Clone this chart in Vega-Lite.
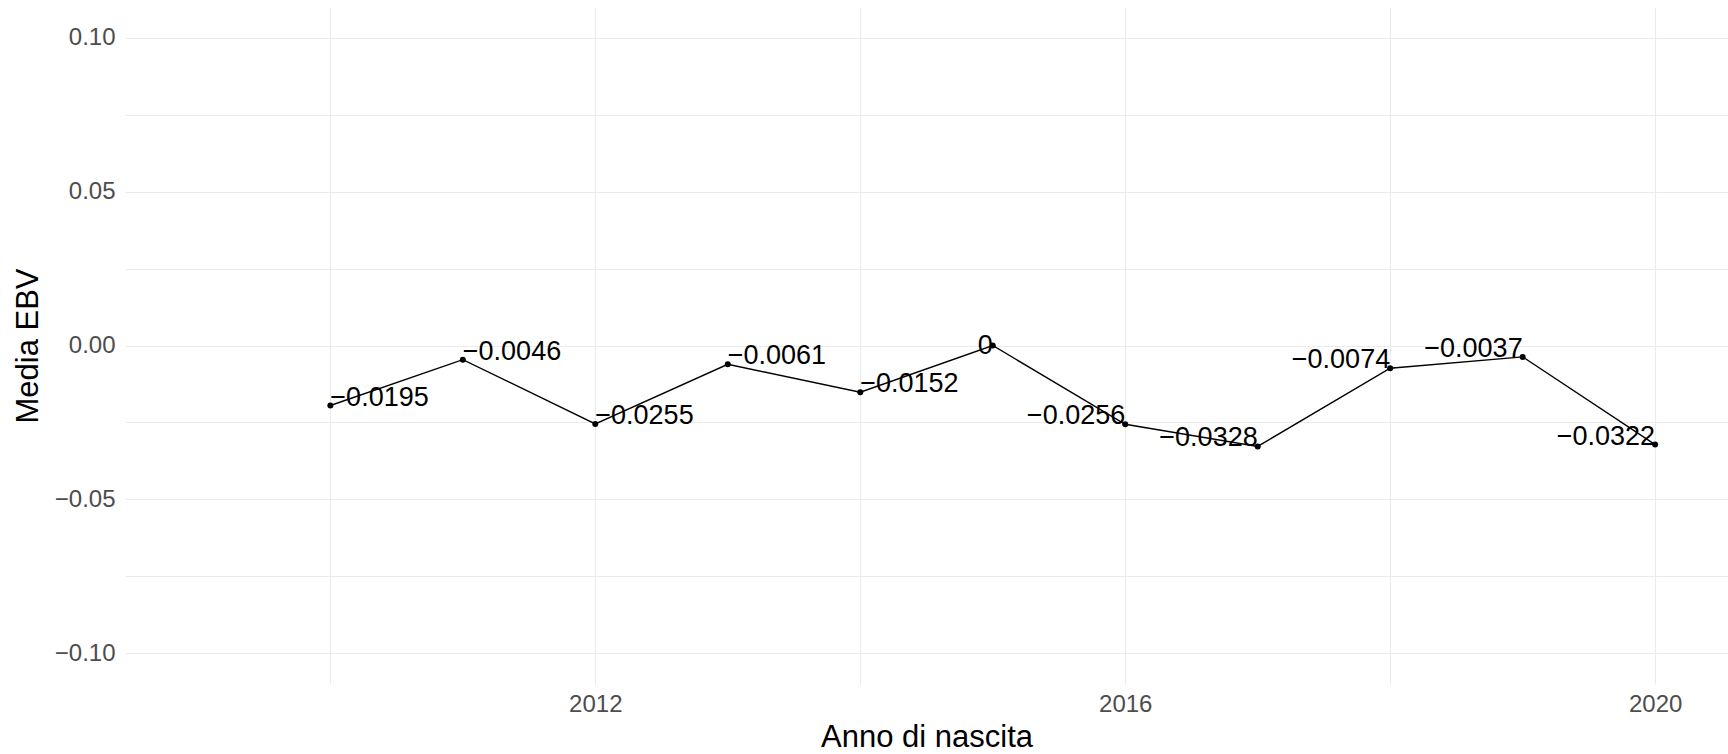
{
  "$schema": "https://vega.github.io/schema/vega-lite/v6.json",
  "width": 1603,
  "height": 677,
  "autosize": {"type": "none"},
  "padding": {"left": 125, "top": 7, "right": 0, "bottom": 70},
  "background": "white",
  "config": {
    "view": {"stroke": null},
    "font": "Liberation Sans",
    "axis": {
      "domain": false,
      "ticks": false,
      "grid": true,
      "gridColor": "#EBEBEB",
      "gridWidth": 1.1,
      "labelFont": "Liberation Sans",
      "labelFontSize": 24,
      "labelColor": "#4D4D4D",
      "labelOverlap": false,
      "labelFlush": false,
      "titleFont": "Liberation Sans",
      "titleFontSize": 31,
      "titleFontWeight": "normal",
      "titleColor": "black"
    }
  },
  "data": {
    "values": [
      {"anno": 2010, "ebv": -0.0195},
      {"anno": 2011, "ebv": -0.0046},
      {"anno": 2012, "ebv": -0.0255},
      {"anno": 2013, "ebv": -0.0061},
      {"anno": 2014, "ebv": -0.0152},
      {"anno": 2015, "ebv": 0},
      {"anno": 2016, "ebv": -0.0256},
      {"anno": 2017, "ebv": -0.0328},
      {"anno": 2018, "ebv": -0.0074},
      {"anno": 2019, "ebv": -0.0037},
      {"anno": 2020, "ebv": -0.0322}
    ]
  },
  "encoding": {
    "x": {
      "field": "anno",
      "type": "quantitative",
      "scale": {"domain": [2008.45, 2020.55], "nice": false, "zero": false},
      "axis": {
        "title": "Anno di nascita",
        "values": [2010, 2012, 2014, 2016, 2018, 2020],
        "format": "d",
        "labelExpr": "datum.value % 4 == 0 ? datum.label : ''",
        "labelPadding": 8,
        "titlePadding": 6
      }
    },
    "y": {
      "field": "ebv",
      "type": "quantitative",
      "scale": {"domain": [-0.11, 0.11], "nice": false, "zero": false},
      "axis": {
        "title": "Media EBV",
        "values": [-0.1, -0.075, -0.05, -0.025, 0, 0.025, 0.05, 0.075, 0.1],
        "format": ".2f",
        "labelExpr": "abs(round(datum.value * 1000)) % 50 == 0 ? datum.label : ''",
        "labelPadding": 10,
        "titlePadding": 10
      }
    }
  },
  "layer": [
    {"mark": {"type": "line", "color": "black", "strokeWidth": 1.4}},
    {"mark": {"type": "point", "filled": true, "color": "black", "size": 36, "opacity": 1}},
    {
      "transform": [{"filter": "datum.anno < 2015"}],
      "mark": {"type": "text", "align": "left", "baseline": "alphabetic", "fontSize": 27, "color": "black", "font": "Liberation Sans"},
      "encoding": {"text": {"field": "ebv", "type": "quantitative", "format": ".4~f"}}
    },
    {
      "transform": [{"filter": "datum.anno == 2015"}],
      "mark": {"type": "text", "align": "right", "baseline": "middle", "fontSize": 27, "color": "black", "font": "Liberation Sans"},
      "encoding": {"text": {"field": "ebv", "type": "quantitative", "format": ".4~f"}}
    },
    {
      "transform": [{"filter": "datum.anno > 2015"}],
      "mark": {"type": "text", "align": "right", "baseline": "alphabetic", "fontSize": 27, "color": "black", "font": "Liberation Sans"},
      "encoding": {"text": {"field": "ebv", "type": "quantitative", "format": ".4~f"}}
    }
  ]
}
